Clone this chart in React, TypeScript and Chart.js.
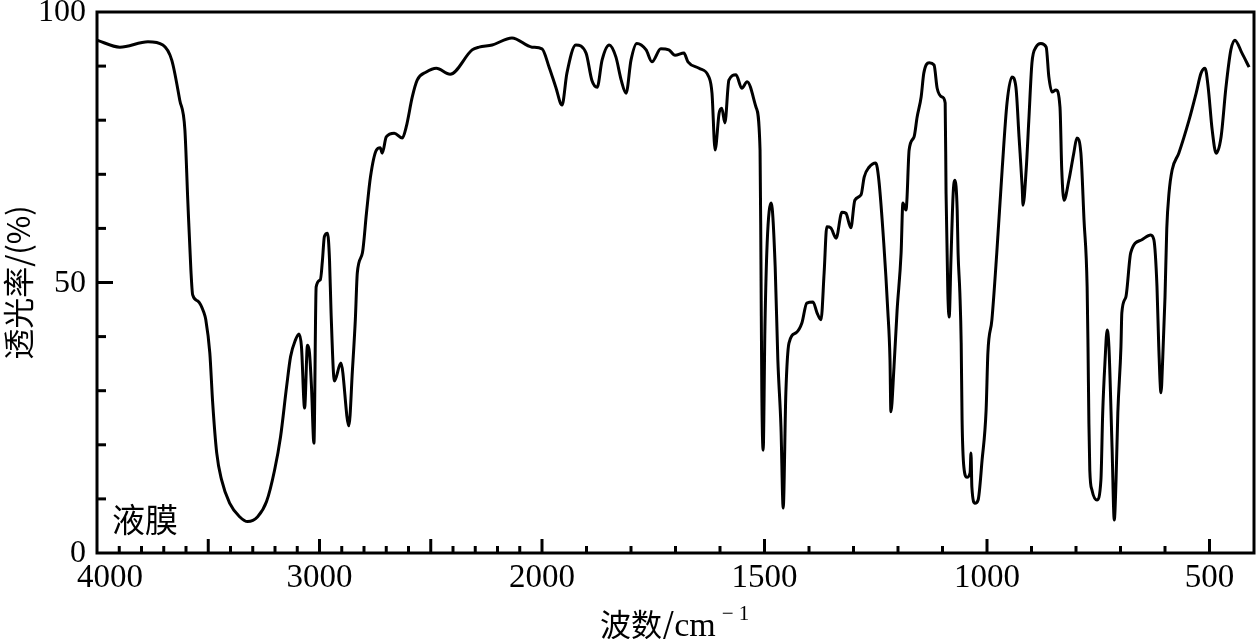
import React, { useEffect, useRef } from "react";
import { Chart, registerables } from "chart.js";

Chart.register(...registerables);

// Wavenumber (cm^-1) and transmittance (%)
const wavenumbers = [
  4000, 3897, 3771, 3704, 3664, 3628, 3605, 3592, 3578, 3570, 3547, 3520, 3511, 3493, 3480, 3462,
  3440, 3404, 3359, 3323, 3278, 3238, 3202, 3175, 3148, 3130, 3108, 3092, 3081, 3067, 3054, 3045,
  3036, 3025, 3015, 2996, 2987, 2978, 2964, 2955, 2948, 2933, 2904, 2868, 2852, 2839, 2830, 2807,
  2789, 2771, 2744, 2727, 2718, 2700, 2664, 2628, 2610, 2583, 2561, 2520, 2475, 2413, 2314, 2283,
  2224, 2135, 2045, 2000,
  1984, 1969, 1955, 1944, 1924, 1901, 1888, 1876, 1865, 1849, 1834, 1822, 1811, 1800, 1787, 1766,
  1753, 1733, 1715, 1701, 1681, 1672, 1647, 1625, 1618, 1611, 1602, 1596, 1589, 1580, 1564, 1551,
  1539, 1519, 1510, 1508, 1506, 1503, 1499, 1494, 1485, 1476, 1470, 1463, 1458, 1452, 1445, 1429,
  1416, 1405, 1391, 1382, 1373, 1366, 1360, 1351, 1339, 1326, 1317, 1306, 1297, 1283, 1276, 1265,
  1250, 1243, 1232, 1223, 1218, 1216, 1209, 1202, 1193, 1189, 1182, 1180, 1175, 1164, 1157, 1148,
  1142, 1130, 1119, 1112, 1101, 1094, 1092, 1088, 1085, 1081, 1076, 1072, 1067, 1065, 1061, 1058,
  1056, 1052, 1045, 1038, 1036, 1034, 1027, 1020, 1011, 1002, 998, 989, 978, 966, 955, 944,
  935, 928, 921, 919, 912, 906, 899, 890, 879, 867, 861, 854, 845, 836, 832, 827,
  816, 805, 798, 789, 782, 775, 773, 771, 769, 764, 753, 744, 740, 735, 730, 726,
  719, 714, 710, 706, 699, 697, 688, 677, 652, 632, 625, 618, 614, 609, 605, 600,
  596, 591, 584, 569, 546, 530, 519, 510, 503, 494, 485, 474, 463, 452, 443, 427, 411,
];

const transmittance = [
  94.8, 93.5, 94.5, 93.9, 91.1, 83.7, 78.2, 65.2, 52.3, 47.7, 46.6, 44.5, 43.1, 37.0, 27.7, 18.5,
  13.5, 9.2, 6.7, 5.8, 6.7, 9.5, 15.3, 21.5, 30.7, 36.3, 39.4, 40.5, 38.1, 26.8, 38.4, 37.0,
  30.7, 20.3, 49.2, 50.5, 54.0, 58.5, 59.1, 54.2, 44.4, 31.8, 35.1, 23.5, 33.8, 43.1, 51.8, 55.5,
  62.8, 69.5, 74.5, 74.9, 73.9, 76.9, 77.6, 76.7, 78.8, 84.3, 87.4, 88.9, 89.6, 88.5, 93.0, 93.5,
  93.9, 95.2, 93.5, 93.2,
  89.8, 86.1, 82.8, 88.7, 93.9, 92.4, 87.4, 86.1, 91.1, 93.9, 91.7, 87.4, 85.0, 91.1, 94.2, 93.0,
  90.8, 93.2, 93.0, 92.0, 92.4, 90.8, 89.6, 88.0, 85.0, 74.5, 81.3, 82.2, 79.5, 87.4, 88.4, 85.9,
  87.1, 82.4, 74.5, 54.2, 29.6, 19.0, 41.8, 57.3, 64.7, 52.9, 35.7, 23.3, 8.3, 29.6, 38.8, 40.7,
  42.5, 46.2, 46.4, 44.4, 43.1, 51.8, 60.3, 60.1, 58.2, 63.0, 62.8, 60.1, 65.2, 66.2, 69.5, 71.3,
  72.1, 68.9, 57.3, 44.9, 35.7, 26.1, 34.4, 44.9, 55.5, 64.7, 63.4, 65.2, 74.5, 76.9, 80.6, 84.3,
  88.7, 90.6, 90.2, 85.9, 84.3, 83.2, 66.5, 48.1, 43.6, 54.2, 66.5, 68.9, 63.4, 55.5, 48.1, 38.8,
  24.6, 15.9, 14.0, 14.8, 18.5, 12.2, 9.2, 9.8, 17.2, 26.4, 37.0, 43.1, 55.5, 70.8, 83.2, 88.0,
  86.1, 76.9, 67.7, 64.3, 70.8, 80.0, 90.6, 93.5, 94.2, 93.5, 88.0, 85.2, 85.6, 82.4, 70.8, 65.2,
  68.9, 73.9, 76.7, 73.9, 61.6, 49.2, 38.1, 24.0, 15.3, 11.6, 9.8, 13.5, 25.9, 35.1, 41.2, 38.1,
  19.6, 6.1, 13.5, 25.9, 38.1, 44.4, 47.3, 55.5, 57.9, 58.8, 57.9, 49.2, 38.1, 29.6, 36.2, 47.3,
  60.0, 66.5, 70.8, 73.9, 80.0, 85.0, 88.7, 89.6, 86.1, 78.2, 73.9, 76.9, 86.1, 93.0, 94.8, 92.4, 89.8,
];

const xTickLabels = [4000, 3000, 2000, 1500, 1000, 500];
const xMajorTicks = [3500, 3000, 2500, 2000, 1500, 1000, 500];
const yTickLabels = [0, 50, 100];
const yMajorTicks = [50];
const xRange = [4000, 400];
const yRange = [0, 100];

// The abscissa scale changes at 2000 cm^-1 (half density above 2000)
function toAxis(w: number): number {
  return w > 2000 ? 2000 + (w - 2000) / 2 : w;
}

const SERIF = '"Liberation Serif", "DejaVu Serif", serif';
const CJK = '"Noto Sans CJK SC", sans-serif';

const framePlugin = {
  id: "irFrame",
  afterDraw(chart: any) {
    const { ctx, chartArea } = chart;
    const xs = chart.scales.x;
    const ys = chart.scales.y;
    const { left, right, top, bottom } = chartArea;
    ctx.save();
    ctx.strokeStyle = "#000";
    ctx.fillStyle = "#000";
    ctx.lineWidth = 3;
    ctx.strokeRect(left, top, right - left, bottom - top);

    // x ticks (inward)
    ctx.lineWidth = 3;
    for (let w = xRange[0] - 100; w > xRange[1]; w -= 100) {
      const px = xs.getPixelForValue(toAxis(w));
      const len = xMajorTicks.includes(w) ? 14 : 7;
      ctx.beginPath();
      ctx.moveTo(px, bottom);
      ctx.lineTo(px, bottom - len);
      ctx.stroke();
    }
    // y ticks (inward)
    for (let v = yRange[0] + 10; v < yRange[1]; v += 10) {
      const py = ys.getPixelForValue(v);
      const len = yMajorTicks.includes(v) ? 16 : 9;
      ctx.beginPath();
      ctx.moveTo(left, py);
      ctx.lineTo(left + len, py);
      ctx.stroke();
    }

    // tick labels
    ctx.font = `33px ${SERIF}`;
    ctx.textAlign = "center";
    ctx.textBaseline = "middle";
    xTickLabels.forEach((w) => {
      let px = xs.getPixelForValue(toAxis(w));
      if (w === xRange[0]) px += 13;
      ctx.fillText(String(w), px, bottom + 25);
    });
    ctx.font = `32px ${SERIF}`;
    ctx.textAlign = "right";
    yTickLabels.forEach((v) => {
      const py = ys.getPixelForValue(v);
      ctx.fillText(String(v), left - 11, py + 1);
    });

    // x title
    ctx.font = `31px ${CJK}`;
    ctx.textAlign = "left";
    ctx.textBaseline = "alphabetic";
    const t1 = "波数/";
    ctx.fillText(t1, 600, 636);
    const w1 = ctx.measureText(t1).width;
    ctx.font = `34px ${SERIF}`;
    ctx.fillText("cm", 600 + w1, 636);
    const w2 = ctx.measureText("cm").width;
    ctx.font = `21px ${SERIF}`;
    ctx.fillText("\u2212 1", 600 + w1 + w2 + 6, 620);

    // y title
    ctx.save();
    ctx.translate(18, (top + bottom) / 2);
    ctx.rotate(-Math.PI / 2);
    ctx.textAlign = "center";
    ctx.textBaseline = "middle";
    ctx.font = `31px ${CJK}`;
    ctx.fillText("透光率/(%)", 0, 0);
    ctx.restore();

    // annotation
    ctx.font = `33px ${CJK}`;
    ctx.textAlign = "left";
    ctx.textBaseline = "middle";
    ctx.fillText("液膜", 112, 519);
    ctx.restore();
  },
};

export default function App() {
  const ref = useRef<HTMLCanvasElement | null>(null);
  useEffect(() => {
    if (!ref.current) return;
    const chart = new Chart(ref.current, {
      type: "line",
      data: {
        datasets: [
          {
            data: wavenumbers.map((w, i) => ({ x: toAxis(w), y: transmittance[i] })),
            borderColor: "#000",
            borderWidth: 3,
            pointRadius: 0,
            fill: false,
            cubicInterpolationMode: "monotone",
          },
        ],
      },
      options: {
        animation: false,
        responsive: false,
        events: [],
        layout: { padding: { top: 12, right: 2, left: 0, bottom: 0 } },
        plugins: { legend: { display: false }, tooltip: { enabled: false } },
        scales: {
          x: {
            type: "linear",
            min: toAxis(xRange[1]),
            max: toAxis(xRange[0]),
            reverse: true,
            grid: { display: false },
            border: { display: false },
            ticks: { display: false },
            afterFit(scale: any) {
              scale.height = 86;
            },
          },
          y: {
            min: yRange[0],
            max: yRange[1],
            grid: { display: false },
            border: { display: false },
            ticks: { display: false },
            afterFit(scale: any) {
              scale.width = 97;
            },
          },
        },
      },
      plugins: [framePlugin],
    });
    return () => chart.destroy();
  }, []);
  return (
    <div style={{ position: "absolute", left: 0, top: 0, width: 1256, height: 639, background: "#fff" }}>
      <canvas ref={ref} width={1256} height={639} />
    </div>
  );
}
